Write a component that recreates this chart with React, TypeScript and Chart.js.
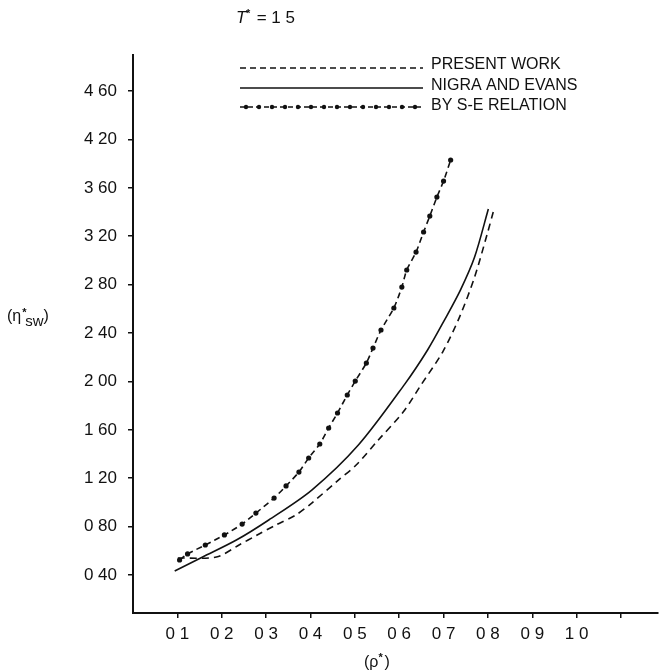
import React, { useEffect, useRef } from "react";
import { Chart, registerables } from "chart.js";
Chart.register(...registerables);

// BY S-E RELATION (dotted-dashed with dots)
const seX = [0.105, 0.123, 0.163, 0.206, 0.246, 0.277, 0.318, 0.345, 0.374, 0.396, 0.421, 0.441, 0.461, 0.483, 0.501, 0.526, 0.541, 0.559, 0.588, 0.606, 0.617, 0.638, 0.655, 0.669, 0.685, 0.7, 0.716];
const seY = [0.524, 0.574, 0.648, 0.731, 0.821, 0.912, 1.036, 1.136, 1.251, 1.367, 1.483, 1.615, 1.739, 1.888, 2.003, 2.152, 2.276, 2.425, 2.607, 2.78, 2.921, 3.069, 3.235, 3.367, 3.524, 3.656, 3.83];
// NIGRA AND EVANS (solid)
const neX = [0.094, 0.157, 0.233, 0.306, 0.403, 0.508, 0.613, 0.664, 0.702, 0.738, 0.77, 0.801];
const neY = [0.433, 0.549, 0.689, 0.855, 1.102, 1.474, 1.98, 2.26, 2.507, 2.755, 3.028, 3.425];
// PRESENT WORK (dashed)
const pwX = [0.101, 0.188, 0.239, 0.28, 0.322, 0.367, 0.403, 0.463, 0.503, 0.553, 0.609, 0.649, 0.698, 0.736, 0.77, 0.799, 0.812];
const pwY = [0.54, 0.549, 0.648, 0.731, 0.813, 0.896, 0.995, 1.185, 1.309, 1.516, 1.747, 1.97, 2.243, 2.532, 2.863, 3.226, 3.4];

const yTickValues = [0.4, 0.8, 1.2, 1.6, 2.0, 2.4, 2.8, 3.2, 3.6, 4.0, 4.4];
const yTickLabels = ["0 40", "0 80", "1 20", "1 60", "2 00", "2 40", "2 80", "3 20", "3 60", "4 20", "4 60"];
const xTickValues = [0.1, 0.2, 0.3, 0.4, 0.5, 0.6, 0.7, 0.8, 0.9, 1.0, 1.1];
const xTickLabels = ["0 1", "0 2", "0 3", "0 4", "0 5", "0 6", "0 7", "0 8", "0 9", "1 0", ""];

const legendLabels = ["PRESENT WORK", "NIGRA AND EVANS", "BY S-E RELATION"];
const titleText = "T";
const titleRest = " = 1 5";

const FONT = "'Liberation Sans', Arial, Helvetica, sans-serif";
const INK = "#111";

const zip = (xs: number[], ys: number[]) => xs.map((x, i) => ({ x, y: ys[i] }));

const annotations = {
  id: "annotations",
  afterDraw(chart: any) {
    const ctx = chart.ctx as CanvasRenderingContext2D;
    ctx.save();
    ctx.fillStyle = INK;
    ctx.strokeStyle = INK;
    ctx.textBaseline = "alphabetic";
    ctx.textAlign = "left";

    // Title T* = 1 5
    ctx.font = `italic 17px ${FONT}`;
    ctx.fillText(titleText, 236, 23);
    ctx.font = `bold 11px ${FONT}`;
    ctx.fillText("*", 246, 17);
    ctx.font = `17px ${FONT}`;
    ctx.fillText(titleRest, 252, 23);

    // Y axis title (η*sw)
    ctx.font = `16px ${FONT}`;
    ctx.fillText("(\u03B7", 7, 321);
    const wp = ctx.measureText("(\u03B7").width;
    ctx.font = `bold 11px ${FONT}`;
    ctx.fillText("*", 7 + wp + 1, 316);
    ctx.font = `15px ${FONT}`;
    ctx.fillText("sw", 7 + wp + 4, 326);
    const ws = ctx.measureText("sw").width;
    ctx.font = `16px ${FONT}`;
    ctx.fillText(")", 7 + wp + 4 + ws, 321);

    // X axis title (ρ*)
    ctx.font = `16px ${FONT}`;
    ctx.fillText("(\u03C1", 364, 667);
    const wr = ctx.measureText("(\u03C1").width;
    ctx.font = `bold 11px ${FONT}`;
    ctx.fillText("*", 364 + wr, 661);
    ctx.font = `16px ${FONT}`;
    ctx.fillText(")", 364 + wr + 6, 667);

    // Legend
    const x0 = 240, x1 = 423, tx = 431;
    const rows = [68, 88, 107];
    ctx.lineWidth = 1.5;
    ctx.setLineDash([6, 4]);
    ctx.beginPath(); ctx.moveTo(x0, rows[0]); ctx.lineTo(x1, rows[0]); ctx.stroke();
    ctx.setLineDash([]);
    ctx.beginPath(); ctx.moveTo(x0, rows[1]); ctx.lineTo(x1, rows[1]); ctx.stroke();
    ctx.setLineDash([5, 3]);
    ctx.beginPath(); ctx.moveTo(x0, rows[2]); ctx.lineTo(x1, rows[2]); ctx.stroke();
    ctx.setLineDash([]);
    for (let x = 246; x < x1 - 6; x += 13) {
      ctx.beginPath(); ctx.arc(x, rows[2], 2.2, 0, Math.PI * 2); ctx.fill();
    }
    ctx.font = `16px ${FONT}`;
    ctx.textBaseline = "middle";
    ctx.fillText(legendLabels[0], tx, rows[0] - 3);
    ctx.fillText(legendLabels[1], tx, rows[1] - 2);
    ctx.fillText(legendLabels[2], tx, rows[2] - 1);
    ctx.restore();
  },
};

export default function App() {
  const ref = useRef<HTMLCanvasElement | null>(null);
  useEffect(() => {
    if (!ref.current) return;
    const chart = new Chart(ref.current, {
      type: "line",
      data: {
        datasets: [
          {
            label: legendLabels[0],
            data: zip(pwX, pwY),
            borderColor: INK,
            borderWidth: 1.6,
            borderDash: [7, 5],
            pointRadius: 0,
            tension: 0.3,
            fill: false,
          },
          {
            label: legendLabels[1],
            data: zip(neX, neY),
            borderColor: INK,
            borderWidth: 1.6,
            pointRadius: 0,
            tension: 0.3,
            fill: false,
          },
          {
            label: legendLabels[2],
            data: zip(seX, seY),
            borderColor: INK,
            borderWidth: 1.6,
            borderDash: [6, 4],
            pointRadius: 2.6,
            pointBackgroundColor: INK,
            pointBorderColor: INK,
            pointBorderWidth: 0,
            tension: 0.25,
            fill: false,
          },
        ],
      },
      options: {
        animation: false,
        responsive: true,
        maintainAspectRatio: false,
        layout: { padding: { top: 55, right: 0, bottom: 0, left: 0 } },
        plugins: { legend: { display: false }, tooltip: { enabled: false }, title: { display: false } },
        scales: {
          x: {
            type: "linear",
            min: 0,
            max: 1.1834,
            afterFit(scale: any) { scale.height = 59; scale.paddingRight = 0; },
            afterBuildTicks(scale: any) { scale.ticks = xTickValues.map((v) => ({ value: v })); },
            ticks: {
              autoSkip: false,
              maxRotation: 0,
              padding: 6,
              color: INK,
              font: { family: FONT, size: 17 },
              callback: (_v: any, i: number) => xTickLabels[i],
            },
            grid: { drawOnChartArea: false, drawTicks: true, tickLength: 5, color: INK, lineWidth: 1.5 },
            border: { display: true, color: INK, width: 2 },
          },
          y: {
            type: "linear",
            min: 0.086,
            max: 4.698,
            afterFit(scale: any) { scale.width = 133; },
            afterBuildTicks(scale: any) { scale.ticks = yTickValues.map((v) => ({ value: v })); },
            ticks: {
              autoSkip: false,
              padding: 11,
              color: INK,
              font: { family: FONT, size: 17 },
              callback: (_v: any, i: number) => yTickLabels[i],
            },
            grid: { drawOnChartArea: false, drawTicks: true, tickLength: 5, color: INK, lineWidth: 1.5 },
            border: { display: true, color: INK, width: 2 },
          },
        },
      },
      plugins: [annotations],
    } as any);
    return () => chart.destroy();
  }, []);
  return (
    <div style={{ position: "fixed", left: 0, top: 0, width: 662, height: 672, background: "#fff" }}>
      <canvas ref={ref} />
    </div>
  );
}
